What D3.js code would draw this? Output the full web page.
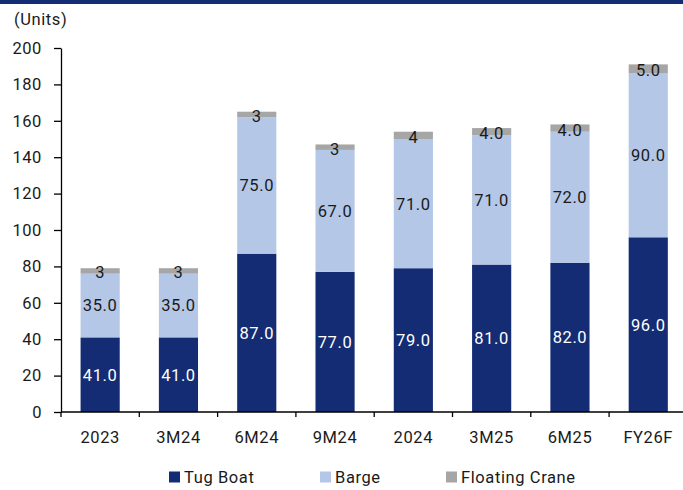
<!DOCTYPE html>
<html>
<head>
<meta charset="utf-8">
<script src="https://cdn.jsdelivr.net/npm/d3@7"></script>
<style>
  html, body { margin: 0; padding: 0; background: #fff; }
  svg { display: block; }
  text { font-family: "Roboto", "DejaVu Sans Condensed", sans-serif; letter-spacing: 0.6px; }
</style>
</head>
<body>
<svg id="chart" width="683" height="490"></svg>
<script>
// Fleet size by vessel type (units)
const periods = ["2023", "3M24", "6M24", "9M24", "2024", "3M25", "6M25", "FY26F"];
const tugBoat = [41, 41, 87, 77, 79, 81, 82, 96];
const barge = [35, 35, 75, 67, 71, 71, 72, 90];
const floatingCrane = [3, 3, 3, 3, 4, 4, 4, 5];
const craneDecimals = [0, 0, 0, 0, 0, 1, 1, 1];
const yTicks = [0, 20, 40, 60, 80, 100, 120, 140, 160, 180, 200];
const seriesNames = ["Tug Boat", "Barge", "Floating Crane"];

const colors = { "Tug Boat": "#142c73", "Barge": "#b4c7e7", "Floating Crane": "#a6a6a6" };
const labelColors = { "Tug Boat": "#ffffff", "Barge": "#1a1a1a", "Floating Crane": "#1a1a1a" };
const FS = 16.5;

const svg = d3.select("#chart");
const W = 683;
const margin = { left: 61, top: 48, bottom: 412 };

// Top rule
svg.append("rect").attr("x", 0).attr("y", 0).attr("width", W).attr("height", 4).attr("fill", "#142c73");

const x = d3.scaleBand().domain(periods).range([margin.left, margin.left + 78.3 * periods.length]).paddingInner(0.5).paddingOuter(0.25);
const y = d3.scaleLinear().domain([0, 200]).range([margin.bottom, margin.top]);

const rows = periods.map((p, i) => ({ period: p, "Tug Boat": tugBoat[i], "Barge": barge[i], "Floating Crane": floatingCrane[i], dec: craneDecimals[i] }));
const stack = d3.stack().keys(seriesNames)(rows);

const g = svg.append("g");
stack.forEach(layer => {
  const key = layer.key;
  g.selectAll(null).data(layer).join("rect")
    .attr("x", d => x(d.data.period))
    .attr("width", x.bandwidth())
    .attr("y", d => y(d[1]))
    .attr("height", d => y(d[0]) - y(d[1]))
    .attr("fill", colors[key]);
  g.selectAll(null).data(layer).join("text")
    .attr("x", d => x(d.data.period) + x.bandwidth() / 2)
    .attr("y", d => (y(d[0]) + y(d[1])) / 2 + (key === "Floating Crane" ? 1.5 : 0))
    .attr("dy", "0.36em")
    .attr("text-anchor", "middle")
    .attr("font-size", FS)
    .attr("fill", labelColors[key])
    .text(d => {
      const v = d[1] - d[0];
      return key === "Floating Crane" ? v.toFixed(d.data.dec) : v.toFixed(1);
    });
});

// Y axis
const yAxis = svg.append("g").attr("transform", `translate(${margin.left},0)`)
  .call(d3.axisLeft(y).tickValues(yTicks).tickSize(7).tickPadding(12).tickSizeOuter(0));
yAxis.select(".domain").attr("stroke", "#000").attr("stroke-width", 1.3);
yAxis.selectAll(".tick line").attr("stroke", "#000").attr("stroke-width", 1.3);
yAxis.selectAll("text").attr("font-size", FS).attr("fill", "#1a1a1a").attr("font-family", "Roboto, sans-serif");

// X axis with ticks at category boundaries
const xAxisG = svg.append("g").attr("transform", `translate(0,${margin.bottom})`);
xAxisG.append("line").attr("x1", margin.left).attr("x2", W).attr("y1", 0).attr("y2", 0).attr("stroke", "#000").attr("stroke-width", 1.3);
const step = x.step();
const boundaries = periods.map(p => x(p) - step * 0.25);
xAxisG.selectAll(null).data(boundaries).join("line")
  .attr("x1", d => d).attr("x2", d => d).attr("y1", 0).attr("y2", 5)
  .attr("stroke", "#000").attr("stroke-width", 1.3);
xAxisG.selectAll(null).data(periods).join("text")
  .attr("x", d => x(d) + x.bandwidth() / 2)
  .attr("y", 25)
  .attr("dy", "0.36em")
  .attr("text-anchor", "middle")
  .attr("font-size", FS)
  .attr("fill", "#1a1a1a")
  .text(d => d);

// Unit label
svg.append("text").attr("x", 14).attr("y", 19).attr("dy", "0.36em").attr("font-size", FS).attr("fill", "#1a1a1a").text("(Units)");

// Legend
const legendX = [169, 320, 446];
const lg = svg.append("g").attr("transform", "translate(0,477)");
seriesNames.forEach((s, i) => {
  lg.append("rect").attr("x", legendX[i]).attr("y", -5.5).attr("width", 11).attr("height", 11).attr("fill", colors[s]);
  lg.append("text").attr("x", legendX[i] + 15).attr("y", 0).attr("dy", "0.36em").attr("font-size", FS).attr("fill", "#1a1a1a").text(s);
});
</script>
</body>
</html>
